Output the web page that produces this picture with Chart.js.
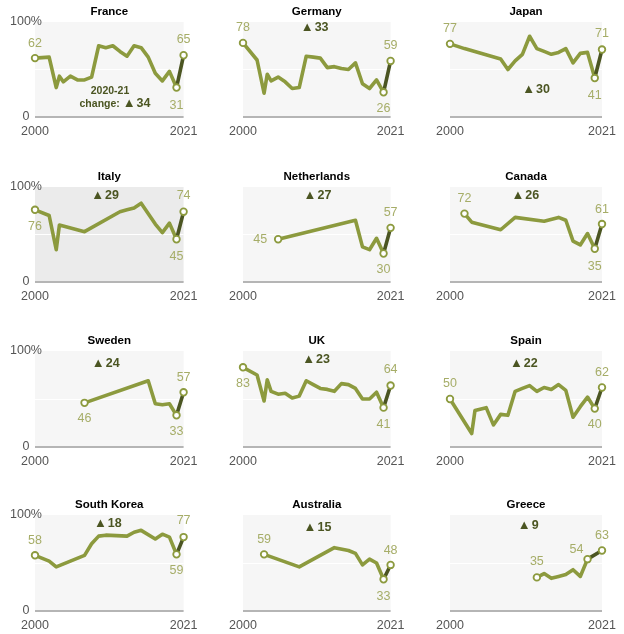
<!DOCTYPE html>
<html><head><meta charset="utf-8">
<script src="https://cdn.jsdelivr.net/npm/chart.js@4.4.0/dist/chart.umd.min.js"></script>
<style>
html,body{margin:0;padding:0;background:#fff;}
#wrap{position:relative;width:624px;height:634px;overflow:hidden;}
#wrap canvas{position:absolute;}
</style></head>
<body><div id="wrap"></div>
<script>
// ---------- DATA ----------
const countries = ['France','Germany','Japan','Italy','Netherlands','Canada','Sweden','UK','Spain','South Korea','Australia','Greece'];

const franceYears  = [2000,2002,2003,2003.45,2004,2005,2006,2007,2008,2009,2010,2011,2012,2013,2014,2015,2016,2017,2018,2019,2020,2021];
const franceValues = [62,63,31,43,37,43,39,39,42,75,73,75,69,64,75,73,63,46,38,48,31,65];

const germanyYears  = [2000,2002,2003,2003.45,2004,2005,2006,2007,2008,2009,2010,2011,2012,2013,2014,2015,2016,2017,2018,2019,2020,2021];
const germanyValues = [78,60,25,45,38,42,37,30,31,64,63,62,52,53,51,50,57,35,30,39,26,59];

const japanYears  = [2000,2002,2007,2008,2009,2010,2011,2012,2013,2014,2015,2016,2017,2018,2019,2020,2021];
const japanValues = [77,72,61,50,59,66,85,72,69,66,68,72,57,67,68,41,71];

const italyYears  = [2000,2002,2003,2003.45,2007,2012,2013,2014,2015,2017,2018,2019,2020,2021];
const italyValues = [76,70,34,60,53,74,76,78,83,61,52,62,45,74];

const netherlandsYears  = [2005,2016,2017,2018,2019,2020,2021];
const netherlandsValues = [45,65,37,34,46,30,57];

const canadaYears  = [2002,2003,2007,2009,2013,2015,2016,2017,2018,2019,2020,2021];
const canadaValues = [72,63,55,68,64,68,65,43,39,51,35,61];

const swedenYears  = [2007,2016,2017,2018,2019,2020,2021];
const swedenValues = [46,69,45,44,45,33,57];

const ukYears  = [2000,2002,2003,2003.45,2004,2005,2006,2007,2008,2009,2010,2011,2012,2013,2014,2015,2016,2017,2018,2019,2020,2021];
const ukValues = [83,75,48,70,58,55,56,51,53,69,65,61,60,58,66,65,61,50,50,57,41,64];

const spainYears  = [2000,2003,2003.45,2005,2006,2007,2008,2009,2010,2011,2012,2013,2014,2015,2016,2017,2018,2019,2020,2021];
const spainValues = [50,14,38,41,23,34,33,58,61,64,58,62,60,65,59,31,42,52,40,62];

const southKoreaYears  = [2000,2002,2003,2007,2008,2009,2010,2013,2014,2015,2017,2018,2019,2020,2021];
const southKoreaValues = [58,52,46,58,70,78,79,78,82,84,75,80,77,59,77];

const australiaYears  = [2003,2008,2013,2015,2016,2017,2018,2019,2020,2021];
const australiaValues = [59,46,66,63,60,48,54,50,33,48];

const greeceYears  = [2012,2013,2014,2015,2016,2017,2018,2019,2021];
const greeceValues = [35,39,34,36,38,43,36,54,63];

const changes = [34,33,30,29,27,26,24,23,22,18,15,9];

const xTickValues = [2000, 2021];
const xTickText   = ['2000', '2021'];
const yTickValues = [0, 50, 100];
const yTickText   = ['0', '', '100%'];

const seriesYears  = [franceYears,germanyYears,japanYears,italyYears,netherlandsYears,canadaYears,swedenYears,ukYears,spainYears,southKoreaYears,australiaYears,greeceYears];
const seriesValues = [franceValues,germanyValues,japanValues,italyValues,netherlandsValues,canadaValues,swedenValues,ukValues,spainValues,southKoreaValues,australiaValues,greeceValues];

// ---------- LAYOUT / STYLE ----------
const colCanvasLeft  = [0, 205, 412];
const colCanvasWidth = [205, 207, 212];
const colAreaLeft    = [35, 243, 450];
const colAreaRight   = [188, 395, 602];
const rowCanvasTop    = [0, 160, 325, 490];
const rowCanvasHeight = [160, 165, 165, 144];
const rowAreaTop      = [22, 187, 351, 515];
const rowAreaBottom   = [117, 282, 447, 611];

// label offsets (px) for [first point], [2020 point], [2021 point]
const labelOffsets = [
  [[0,-15],[0,18],[0,-16]],
  [[0,-15],[0,16],[0,-15]],
  [[0,-15],[0,17],[0,-16]],
  [[0,17],[0,17],[0,-16]],
  [[-18,0],[0,16],[0,-15]],
  [[0,-15],[0,18],[0,-15]],
  [[0,16],[0,16],[0,-15]],
  [[0,16],[0,17],[0,-16]],
  [[0,-15],[0,16],[0,-15]],
  [[0,-15],[0,16],[0,-17]],
  [[0,-15],[0,17],[0,-14]],
  [[0,-16],[-11,-10],[0,-15]]
];
// anchor of the change annotation, in axis units [year, percent]
const changeAt = [[2010.6,28.4],[2010.2,95.5],[2011.9,30.5],[2009.9,92.6],[2010.6,91.6],[2010.4,91.6],[2010.0,88.5],[2010.4,92.7],[2010.2,88.5],[2010.3,91.7],[2010.6,88.5],[2010.8,89.6]];

const OLIVE = '#8c9a3e';
const DARK = '#4b5522';
const LABEL = '#a6ad68';
const CHANGE = '#4b5522';
const FONT = '"Liberation Sans", Arial, Helvetica, sans-serif';
const BG = '#f6f6f6';
const BG_HI = '#ebebeb';

const panelPlugin = {
  id: 'panel',
  beforeDraw(chart, args, o) {
    const {ctx, chartArea: a} = chart;
    ctx.save();
    ctx.fillStyle = o.bg;
    ctx.fillRect(a.left, a.top, a.right - a.left, a.bottom - a.top);
    ctx.restore();
  },
  afterDraw(chart, args, o) {
    const {ctx, chartArea: a} = chart;
    const xs = chart.scales.x, ys = chart.scales.y;
    ctx.save();
    // title
    ctx.fillStyle = '#000';
    ctx.font = 'bold 11.5px ' + FONT;
    ctx.textAlign = 'center';
    ctx.textBaseline = 'middle';
    ctx.fillText(o.title, (a.left + a.right) / 2, a.top - 10);
    // value labels
    const meta = chart.getDatasetMeta(0);
    const ds = chart.data.datasets[0].data;
    const n = ds.length;
    const idx = [0, n - 2, n - 1];
    ctx.font = '12.5px ' + FONT;
    ctx.fillStyle = LABEL;
    idx.forEach((k, j) => {
      const el = meta.data[k];
      const off = o.offsets[j];
      ctx.fillText(String(ds[k].y), el.x + off[0], el.y + off[1]);
    });
    // change annotation
    const ax = xs.getPixelForValue(o.changeAt[0]);
    const ay = ys.getPixelForValue(o.changeAt[1]);
    ctx.fillStyle = CHANGE;
    ctx.textBaseline = 'alphabetic';
    const numFont = 'bold 12.5px ' + FONT;
    const triFont = 'bold 13px ' + FONT;
    const smallFont = 'bold 10.5px ' + FONT;
    const num = String(o.change);
    function drawChange(cx, cy, prefix) {
      ctx.font = smallFont; const wp = prefix ? ctx.measureText(prefix).width : 0;
      ctx.font = triFont; const wt = ctx.measureText('\u25B2').width;
      ctx.font = numFont; const wn = ctx.measureText(num).width;
      const gap = 1;
      let x = cx - (wp + wt + gap + wn) / 2;
      const base = cy + 4.5;
      ctx.textAlign = 'left';
      if (prefix) { ctx.font = smallFont; ctx.fillText(prefix, x, base); x += wp; }
      ctx.font = triFont; ctx.fillText('\u25B2', x, base); x += wt + gap;
      ctx.font = numFont; ctx.fillText(num, x, base);
    }
    if (o.twoLine) {
      ctx.font = smallFont; ctx.textAlign = 'center';
      ctx.fillText('2020-21', ax, ay + 4);
      drawChange(ax + 5, ay + 12, 'change: ');
    } else {
      drawChange(ax, ay, '');
    }
    ctx.restore();
  }
};

const wrap = document.getElementById('wrap');
countries.forEach((name, i) => {
  const col = i % 3, row = Math.floor(i / 3);
  const cv = document.createElement('canvas');
  const w = colCanvasWidth[col], h = rowCanvasHeight[row];
  cv.width = w; cv.height = h;
  cv.style.left = colCanvasLeft[col] + 'px';
  cv.style.top = rowCanvasTop[row] + 'px';
  cv.style.width = w + 'px'; cv.style.height = h + 'px';
  wrap.appendChild(cv);

  const years = seriesYears[i], values = seriesValues[i];
  const n = values.length;
  const marked = [0, n - 2, n - 1];
  const xAxisHeight = rowCanvasTop[row] + h - rowAreaBottom[row];
  const pad = {
    left: colAreaLeft[col] - colCanvasLeft[col],
    right: colCanvasLeft[col] + w - colAreaRight[col],
    top: rowAreaTop[row] - rowCanvasTop[row],
    bottom: 0
  };

  new Chart(cv, {
    type: 'line',
    data: {
      datasets: [{
        data: years.map((y, k) => ({x: y, y: values[k]})),
        borderColor: OLIVE,
        borderWidth: 3.6,
        borderJoinStyle: 'round',
        borderCapStyle: 'round',
        tension: 0,
        clip: false,
        segment: { borderColor: c => (c.p1DataIndex === n - 1 ? DARK : OLIVE) },
        pointRadius: c => (marked.includes(c.dataIndex) ? 3.3 : 0),
        pointHoverRadius: c => (marked.includes(c.dataIndex) ? 3.3 : 0),
        pointBackgroundColor: '#ffffff',
        pointBorderColor: OLIVE,
        pointBorderWidth: 1.8
      }]
    },
    plugins: [panelPlugin],
    options: {
      responsive: false,
      animation: false,
      events: [],
      layout: { padding: pad },
      plugins: {
        legend: { display: false },
        tooltip: { enabled: false },
        title: { display: false },
        panel: {
          title: name,
          bg: name === 'Italy' ? BG_HI : BG,
          offsets: labelOffsets[i],
          changeAt: changeAt[i],
          change: changes[i],
          twoLine: i === 0
        }
      },
      scales: {
        x: {
          type: 'linear', min: 2000, max: 2021,
          afterBuildTicks: s => { s.ticks = xTickValues.map(v => ({value: v})); },
          afterFit: s => { s.height = xAxisHeight; },
          grid: { display: false, drawTicks: false },
          border: { display: false },
          ticks: {
            callback: v => xTickText[xTickValues.indexOf(v)],
            font: { family: FONT, size: 12.5 }, color: '#555',
            padding: 7.5, maxRotation: 0, minRotation: 0, autoSkip: false
          }
        },
        y: {
          min: 0, max: 100,
          afterBuildTicks: s => { s.ticks = yTickValues.map(v => ({value: v})); },
          afterFit: s => { s.width = 0; },
          grid: {
            drawTicks: false,
            color: c => (c.tick && c.tick.value === 0 ? '#b5b5b5' : (c.tick && c.tick.value === 50 ? '#ffffff' : 'rgba(0,0,0,0)')),
            lineWidth: c => (c.tick && c.tick.value === 0 ? 2 : 1)
          },
          border: { display: false },
          ticks: {
            display: col === 0,
            mirror: true,
            callback: v => yTickText[yTickValues.indexOf(v)],
            crossAlign: 'center', padding: -25,
            font: { family: FONT, size: 12.5 }, color: '#555', autoSkip: false
          }
        }
      }
    }
  });
});
</script>
</body></html>
